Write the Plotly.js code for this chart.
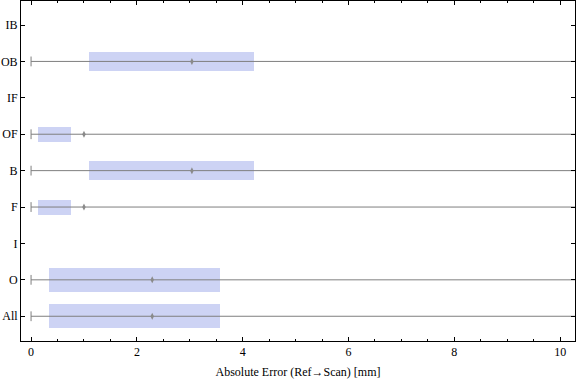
<!DOCTYPE html>
<html><head><meta charset="utf-8">
<script src="https://cdn.plot.ly/plotly-3.0.1.min.js"></script>
<style>html,body{margin:0;padding:0;background:#fff}#c{width:576px;height:381px}</style>
</head><body><div id="c"></div>
<script>
var categories = ["All","O","I","F","B","OF","IF","OB","IB"];
var whiskerMin = [0, 0, null, 0, 0, 0, null, 0, null];
var whiskerMax = [12, 12, null, 12, 12, 12, null, 12, null];
var q1 = [0.34, 0.34, null, 0.13, 1.10, 0.13, null, 1.10, null];
var q3 = [3.57, 3.57, null, 0.76, 4.22, 0.76, null, 4.22, null];
var median = [2.29, 2.29, null, 1.00, 3.04, 1.00, null, 3.04, null];
var boxWidth = [0.66, 0.66, 0, 0.41, 0.52, 0.41, 0, 0.52, 0];

var idx = categories.map(function(c,i){return i;});
var traces = [];
var wx = [], wy = [];
idx.forEach(function(i){
  if (whiskerMin[i] === null) return;
  wx.push(whiskerMin[i], whiskerMax[i], null);
  wy.push(i, i, null);
});
traces.push({type:'scatter', mode:'lines', x:wx, y:wy, line:{color:'#7f7f7f', width:1}, hoverinfo:'skip', showlegend:false});
var cx = [], cy = [];
idx.forEach(function(i){ if (whiskerMin[i] !== null){ cx.push(whiskerMin[i]); cy.push(i);} });
traces.push({type:'scatter', mode:'markers', x:cx, y:cy, marker:{symbol:'line-ns-open', size:7, color:'#7f7f7f', line:{color:'#7f7f7f', width:1}}, showlegend:false});
var bx = [], bb = [], by = [], bw = [];
idx.forEach(function(i){ if (q1[i] !== null){ bx.push(q3[i]-q1[i]); bb.push(q1[i]); by.push(i); bw.push(boxWidth[i]); } });
traces.push({type:'bar', orientation:'h', x:bx, base:bb, y:by, width:bw, marker:{color:'#cdd3f4', line:{width:0}}, showlegend:false});
var mx = [], my = [];
idx.forEach(function(i){ if (median[i] !== null){ mx.push(median[i]); my.push(i);} });
traces.push({type:'scatter', mode:'markers', x:mx, y:my, marker:{symbol:'diamond-tall', size:5, color:'#8a8a8a', line:{width:0}}, showlegend:false});

var layout = {
  width:576, height:381,
  margin:{l:21, r:1, t:1, b:40},
  paper_bgcolor:'#fff', plot_bgcolor:'#fff',
  font:{family:'"Liberation Serif", "Times New Roman", serif', size:12, color:'#000'},
  xaxis:{range:[-0.19, 10.28], tickvals:[0,2,4,6,8,10], ticks:'inside', ticklen:4, tickcolor:'#000',
    minor:{dtick:0.5, ticks:'inside', ticklen:2, tickcolor:'#000', showgrid:false},
    showline:true, linecolor:'#000', linewidth:1, mirror:'ticks', showgrid:false, zeroline:false,
    title:{text:'Absolute Error (Ref\u2192Scan) [mm]', font:{size:12}, standoff:9}},
  yaxis:{range:[-0.68, 8.66], tickvals:idx, ticktext:categories, ticks:'inside', ticklen:4, tickcolor:'#000',
    showline:true, linecolor:'#000', linewidth:1, mirror:'ticks', showgrid:false, zeroline:false},
  bargap:0
};
Plotly.newPlot('c', traces, layout, {displayModeBar:false, staticPlot:true});
</script></body></html>
